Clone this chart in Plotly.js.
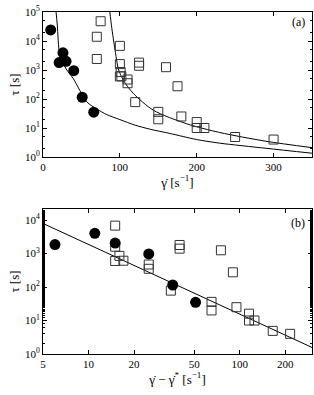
<!DOCTYPE html>
<html><head><meta charset="utf-8">
<script src="https://cdn.plot.ly/plotly-3.0.1.min.js"></script>
<style>html,body{margin:0;padding:0;background:#fff}#c{width:314px;height:395px}</style>
</head><body><div id="c"></div>
<script>
// Panel (a): tau vs shear rate
const circA_gd  = [10, 21, 26, 30, 40, 51, 66];
const circA_tau = [24000, 1800, 3900, 2000, 950, 115, 35];
const sqA_gd  = [75, 70, 70, 100, 100, 100, 101, 102, 110, 110, 120, 125, 125, 150, 150, 160, 175, 180, 200, 200, 210, 250, 300];
const sqA_tau = [48000, 14000, 2400, 6800, 1600, 600, 850, 610, 470, 350, 78, 1800, 1400, 36, 20, 1250, 275, 25, 16, 10, 10, 4.9, 4.0];
// fitted curves in (a)
const fitLow_gd  = [17, 18.6, 22, 30, 39.5, 57, 70, 83, 100, 120, 140, 165, 200, 230, 290, 350];
const fitLow_tau = [100000, 35000, 3200, 1100, 500, 80, 45, 29, 19.5, 12.5, 9, 6.5, 4.0, 3.0, 2.0, 1.35];
const fitHigh_gd  = [87, 89, 91.5, 95, 98, 104.6, 117.6, 143.6, 187, 230, 290, 350];
const fitHigh_tau = [100000, 35000, 12000, 3000, 1100, 440, 155, 41, 14, 7, 3.5, 2.1];
// Panel (b): tau vs (shear rate - critical)
const circB_x   = [6, 11, 15, 25, 36, 51];
const circB_tau = [1850, 4000, 2050, 970, 115, 35];
const sqB_x   = [15, 15, 15, 16, 17, 25, 25, 35, 40, 40, 65, 65, 75, 90, 95, 115, 115, 125, 165, 215];
const sqB_tau = [6800, 1600, 600, 850, 610, 470, 350, 78, 1800, 1400, 36, 20, 1250, 275, 25, 16, 10, 10, 4.9, 4.0];
const lineB_x   = [5, 300];
const lineB_tau = [7900, 1.57];
// tick labels
const yTickVals = [1, 10, 100, 1000, 10000, 100000];
const yTickText = ['10<sup>0</sup>','10<sup>1</sup>','10<sup>2</sup>','10<sup>3</sup>','10<sup>4</sup>','10<sup>5</sup>'];
const xaTickVals = [0, 100, 200, 300];
const xbTickVals = [5, 10, 20, 50, 100, 200];
const xbTickText = ['5','10','20','50','100','200'];

const F = 'Liberation Serif, Times New Roman, serif';
const circ = {symbol:'circle', size:11, color:'#000'};
const sq = {symbol:'square-open', size:9, color:'#333', line:{width:1, color:'#333'}};
const ln = {color:'#000', width:1};

const traces = [
  {x:fitLow_gd, y:fitLow_tau, mode:'lines', line:Object.assign({shape:'spline', smoothing:0.8},ln), xaxis:'x', yaxis:'y'},
  {x:fitHigh_gd, y:fitHigh_tau, mode:'lines', line:Object.assign({shape:'spline', smoothing:0.8},ln), xaxis:'x', yaxis:'y'},
  {x:sqA_gd, y:sqA_tau, mode:'markers', marker:sq, xaxis:'x', yaxis:'y'},
  {x:circA_gd, y:circA_tau, mode:'markers', marker:circ, xaxis:'x', yaxis:'y'},
  {x:lineB_x, y:lineB_tau, mode:'lines', line:ln, xaxis:'x2', yaxis:'y2'},
  {x:sqB_x, y:sqB_tau, mode:'markers', marker:sq, xaxis:'x2', yaxis:'y2'},
  {x:circB_x, y:circB_tau, mode:'markers', marker:circ, xaxis:'x2', yaxis:'y2'}
];

const axBase = {showline:true, linecolor:'#000', linewidth:1, mirror:'ticks', ticks:'inside', ticklen:4, tickcolor:'#000', showgrid:false, zeroline:false, tickfont:{family:F, size:11, color:'#000'}};
const minorY = {ticks:'inside', ticklen:2, tickcolor:'#000', showgrid:false};

const layout = {
  width:314, height:395, showlegend:false,
  paper_bgcolor:'#fff', plot_bgcolor:'#fff',
  margin:{l:43, r:2, t:12, b:41},
  font:{family:F, color:'#000'},
  xaxis: Object.assign({}, axBase, {domain:[0,1], range:[0,350], tickvals:xaTickVals, anchor:'y',
    title:{text:'γ̇ [s<sup>−1</sup>]', font:{family:F, size:13}, standoff:4}}),
  yaxis: Object.assign({}, axBase, {domain:[0.576,1], type:'log', range:[0,5], tickvals:yTickVals, ticktext:yTickText, anchor:'x',
    minor:minorY, title:{text:'τ [s]', font:{family:F, size:13}, standoff:2}}),
  xaxis2: Object.assign({}, axBase, {domain:[0,1], type:'log', range:[Math.log10(5), Math.log10(300)], tickvals:xbTickVals, ticktext:xbTickText, anchor:'y2',
    title:{text:'γ̇ − γ̇<sup>*</sup> [s<sup>−1</sup>]', font:{family:F, size:13}, standoff:4}}),
  yaxis2: Object.assign({}, axBase, {domain:[0,0.424], type:'log', range:[0,4.33], tickvals:yTickVals.slice(0,5), ticktext:yTickText.slice(0,5), anchor:'x2',
    minor:minorY, title:{text:'τ [s]', font:{family:F, size:13}, standoff:2}}),
  annotations:[
    {text:'(a)', xref:'x domain', yref:'y domain', x:0.98, y:0.93, xanchor:'right', yanchor:'middle', showarrow:false, font:{family:F, size:12}},
    {text:'(b)', xref:'x2 domain', yref:'y2 domain', x:0.98, y:0.9, xanchor:'right', yanchor:'middle', showarrow:false, font:{family:F, size:12}}
  ]
};
Plotly.newPlot('c', traces, layout, {staticPlot:true, displayModeBar:false});
</script></body></html>
